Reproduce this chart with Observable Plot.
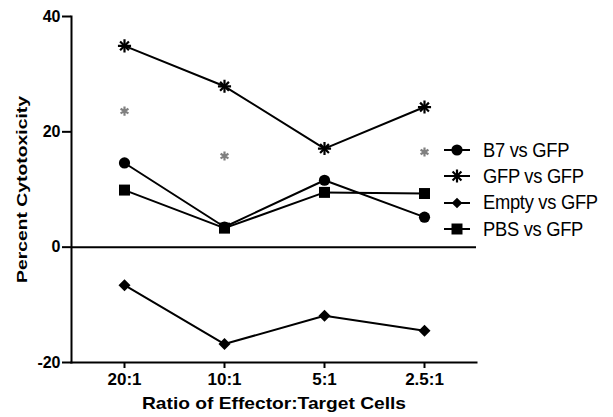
<!DOCTYPE html>
<html>
<head>
<meta charset="utf-8">
<script src="https://cdn.jsdelivr.net/npm/d3@7"></script>
<script src="https://cdn.jsdelivr.net/npm/@observablehq/plot@0.6"></script>
<style>
  html, body { margin: 0; padding: 0; background: #fff; }
  #wrap { position: relative; width: 613px; height: 417px; font-family: "Liberation Sans", Arial, sans-serif; }
  #legend { position: absolute; left: 443px; top: 137px; }
  .row { display: flex; align-items: center; height: 26.3px; white-space: nowrap; }
  .row span { display: inline-block; font-size: 19.5px; letter-spacing: -0.3px; color: #000; margin-left: 12px; transform: scale(0.94, 1); transform-origin: left center; }
</style>
</head>
<body>
<div id="wrap"><div id="chart"></div><div id="legend"></div></div>
<script>
const ratios = ["20:1", "10:1", "5:1", "2.5:1"];
const b7 = [14.6, 3.5, 11.6, 5.2];
const gfp = [34.9, 27.9, 17.1, 24.3];
const empty = [-6.6, -16.8, -11.9, -14.5];
const pbs = [9.9, 3.3, 9.5, 9.3];
const sigRatios = ["20:1", "10:1", "2.5:1"];
const sigValues = [23.6, 15.8, 16.5];
const seriesNames = ["B7 vs GFP", "GFP vs GFP", "Empty vs GFP", "PBS vs GFP"];
const yTicks = [-20, 0, 20, 40];
const yTitle = "Percent Cytotoxicity";
const xTitle = "Ratio of Effector:Target Cells";

const seriesValues = [b7, gfp, empty, pbs];
const rows = [];
seriesNames.forEach((name, i) => {
  ratios.forEach((r, j) => rows.push({series: name, ratio: r, value: seriesValues[i][j]}));
});
const sig = sigRatios.map((r, i) => ({ratio: r, value: sigValues[i]}));
const of = name => rows.filter(d => d.series === name);

const plot = Plot.plot({
  width: 613,
  height: 417,
  marginLeft: 71,
  marginRight: 137,
  marginTop: 16,
  marginBottom: 55,
  style: {fontFamily: "'Liberation Sans', Arial, sans-serif", color: "#000", background: "#fff"},
  x: {type: "point", domain: ratios, padding: 0.525},
  y: {domain: [-20, 40]},
  marks: [
    Plot.ruleY([0], {stroke: "#000", strokeWidth: 2}),
    Plot.axisY({ticks: yTicks, tickFormat: d => String(d), tickSize: 9, tickPadding: 2, fontSize: 16, fontWeight: "bold", strokeWidth: 2, label: null}),
    Plot.axisX({tickSize: 6, tickPadding: 4, fontSize: 17, fontWeight: "bold", strokeWidth: 2, label: null}),
    Plot.frame({anchor: "left", strokeWidth: 2}),
    Plot.frame({anchor: "bottom", strokeWidth: 2}),
    Plot.line(rows, {x: "ratio", y: "value", z: "series", stroke: "#000", strokeWidth: 2}),
    Plot.dot(of("B7 vs GFP"), {x: "ratio", y: "value", symbol: "circle", r: 5.6, fill: "#000"}),
    Plot.dot(of("PBS vs GFP"), {x: "ratio", y: "value", symbol: "square", r: 6.2, fill: "#000"}),
    Plot.dot(of("Empty vs GFP"), {x: "ratio", y: "value", symbol: "diamond2", r: 5.4, fill: "#000", stroke: "none"}),
    Plot.dot(of("GFP vs GFP"), {x: "ratio", y: "value", symbol: "plus", r: 4.3, stroke: "#000", strokeWidth: 2.2}),
    Plot.dot(of("GFP vs GFP"), {x: "ratio", y: "value", symbol: "times", r: 4.1, stroke: "#000", strokeWidth: 2.2}),
    Plot.dot(sig, {x: "ratio", y: "value", symbol: "asterisk", r: 4.3, stroke: "#808080", strokeWidth: 2.2}),
    Plot.text([yTitle], {frameAnchor: "left", textAnchor: "middle", dx: -49, rotate: -90, fontSize: 15, fontWeight: "bold", fill: "#000"}),
    Plot.text([xTitle], {frameAnchor: "bottom", textAnchor: "middle", dy: 46, fontSize: 17, fontWeight: "bold", fill: "#000"})
  ]
});
d3.select(plot).selectAll("text")
  .filter(function() { return this.textContent === yTitle; })
  .attr("textLength", 187).attr("lengthAdjust", "spacingAndGlyphs");
d3.select(plot).selectAll("text")
  .filter(function() { return this.textContent === xTitle; })
  .attr("textLength", 264).attr("lengthAdjust", "spacingAndGlyphs");
document.getElementById("chart").appendChild(plot);

// Legend
const symbolFor = ["circle", "asterisk8", "diamond", "square"];
const legend = document.getElementById("legend");
seriesNames.forEach((name, i) => {
  const row = document.createElement("div");
  row.className = "row";
  const ns = "http://www.w3.org/2000/svg";
  const svg = document.createElementNS(ns, "svg");
  svg.setAttribute("width", 28); svg.setAttribute("height", 20);
  const g = document.createElementNS(ns, "g");
  g.setAttribute("transform", "translate(14,10)");
  const line = document.createElementNS(ns, "line");
  line.setAttribute("x1", -13); line.setAttribute("x2", 13);
  line.setAttribute("stroke", "#000"); line.setAttribute("stroke-width", 2);
  g.appendChild(line);
  const addPath = (sym, size, fill) => {
    const p = document.createElementNS(ns, "path");
    p.setAttribute("d", d3.symbol(sym, size)());
    if (fill) { p.setAttribute("fill", "#000"); }
    else { p.setAttribute("fill", "none"); p.setAttribute("stroke", "#000"); p.setAttribute("stroke-width", 2.2); }
    g.appendChild(p);
  };
  const s = symbolFor[i];
  if (s === "circle") addPath(d3.symbolCircle, Math.PI * 5.6 * 5.6, true);
  if (s === "square") addPath(d3.symbolSquare, Math.PI * 6.2 * 6.2, true);
  if (s === "diamond") addPath(d3.symbolDiamond2, Math.PI * 4.8 * 4.8, true);
  if (s === "asterisk8") { addPath(d3.symbolPlus, Math.PI * 4.3 * 4.3, false); addPath(d3.symbolTimes, Math.PI * 4.1 * 4.1, false); }
  svg.appendChild(g);
  row.appendChild(svg);
  const t = document.createElement("span");
  t.textContent = name;
  row.appendChild(t);
  legend.appendChild(row);
});
</script>
</body>
</html>
